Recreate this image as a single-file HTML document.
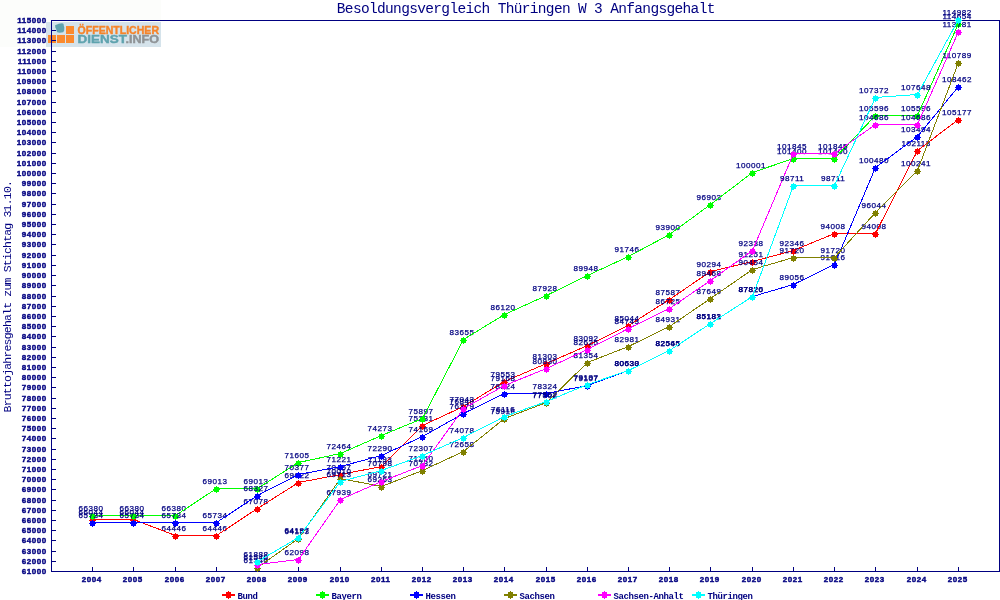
<!DOCTYPE html>
<html lang="de"><head><meta charset="utf-8"><title>Besoldungsvergleich Thüringen W 3 Anfangsgehalt</title>
<style>
html,body{margin:0;padding:0;background:#fff;}
body{width:1000px;height:600px;overflow:hidden;}
svg{display:block;}
svg{font-family:"Liberation Mono","DejaVu Sans Mono",monospace;}
text{fill:#000080;}
.ax{font-family:"Liberation Sans",sans-serif;font-size:8px;font-weight:bold;letter-spacing:0.55px;stroke:#000080;stroke-width:0.4px;}
.dv{font-family:"Liberation Sans",sans-serif;font-size:8.1px;letter-spacing:0.5px;text-anchor:middle;stroke:#000080;stroke-width:0.25px;}
.lt{font-size:9px;font-weight:bold;letter-spacing:-0.4px;}
.ti{font-size:14.5px;letter-spacing:-0.66px;}
.yt{font-size:11.5px;letter-spacing:-0.81px;}
.lg{font-family:"Liberation Sans",sans-serif;font-weight:bold;}
.cr{shape-rendering:crispEdges;}
</style></head><body>
<svg width="1000" height="600" viewBox="0 0 1000 600">
<rect x="0" y="0" width="1000" height="600" fill="#ffffff"/>
<rect x="0" y="0" width="161" height="47" fill="#fcfdfb"/>
<g id="logo">
<rect x="46" y="22" width="115" height="25" fill="#d5e3eb"/>
<g fill="#fb8a2e" class="cr">
<rect x="66" y="26" width="8" height="8"/>
<rect x="48" y="35" width="8" height="8"/>
<rect x="57" y="35" width="8" height="8"/>
<rect x="66" y="35" width="8" height="8"/>
</g>
<path d="M55.1 25.2 L57 24.6 L58.7 23.7 L62 23.2 L63.5 23.8 L63.8 25.5 L64.3 27.5 L64.2 30.6 L63.2 32.2 L59.6 32.8 L57.2 32.2 L56.4 30.6 L56.2 29 L55.3 27.4 Z" fill="#5fa3af"/>
<text class="lg" x="77.6" y="33.5" font-size="10.4" textLength="81.4" lengthAdjust="spacingAndGlyphs" style="fill:#f6842a;stroke:#f6842a;stroke-width:0.4px">ÖFFENTLICHER</text>
<text class="lg" x="77.6" y="42.5" font-size="10.4" style="fill:#5fa3af;stroke:#5fa3af;stroke-width:0.4px"><tspan textLength="47.8" lengthAdjust="spacingAndGlyphs">DIENST</tspan><tspan style="fill:#8f9396;stroke:#8f9396" textLength="33.6" lengthAdjust="spacingAndGlyphs">.INFO</tspan></text>
</g>
<text class="ti" x="336.8" y="12.6">Besoldungsvergleich Thüringen W 3 Anfangsgehalt</text>
<text class="yt" transform="translate(10.7 412.4) rotate(-90)">Bruttojahresgehalt zum Stichtag 31.10.</text>
<g class="cr" fill="#000080">
<rect x="51" y="20" width="1" height="552"/>
<rect x="999" y="20" width="1" height="552"/>
<rect x="51" y="20" width="949" height="1"/>
<rect x="51" y="571" width="949" height="1"/>
<rect x="52" y="571" width="4" height="1"/>
<rect x="52" y="561" width="4" height="1"/>
<rect x="52" y="551" width="4" height="1"/>
<rect x="52" y="540" width="4" height="1"/>
<rect x="52" y="530" width="4" height="1"/>
<rect x="52" y="520" width="4" height="1"/>
<rect x="52" y="510" width="4" height="1"/>
<rect x="52" y="500" width="4" height="1"/>
<rect x="52" y="489" width="4" height="1"/>
<rect x="52" y="479" width="4" height="1"/>
<rect x="52" y="469" width="4" height="1"/>
<rect x="52" y="459" width="4" height="1"/>
<rect x="52" y="449" width="4" height="1"/>
<rect x="52" y="438" width="4" height="1"/>
<rect x="52" y="428" width="4" height="1"/>
<rect x="52" y="418" width="4" height="1"/>
<rect x="52" y="408" width="4" height="1"/>
<rect x="52" y="398" width="4" height="1"/>
<rect x="52" y="387" width="4" height="1"/>
<rect x="52" y="377" width="4" height="1"/>
<rect x="52" y="367" width="4" height="1"/>
<rect x="52" y="357" width="4" height="1"/>
<rect x="52" y="347" width="4" height="1"/>
<rect x="52" y="336" width="4" height="1"/>
<rect x="52" y="326" width="4" height="1"/>
<rect x="52" y="316" width="4" height="1"/>
<rect x="52" y="306" width="4" height="1"/>
<rect x="52" y="296" width="4" height="1"/>
<rect x="52" y="285" width="4" height="1"/>
<rect x="52" y="275" width="4" height="1"/>
<rect x="52" y="265" width="4" height="1"/>
<rect x="52" y="255" width="4" height="1"/>
<rect x="52" y="244" width="4" height="1"/>
<rect x="52" y="234" width="4" height="1"/>
<rect x="52" y="224" width="4" height="1"/>
<rect x="52" y="214" width="4" height="1"/>
<rect x="52" y="204" width="4" height="1"/>
<rect x="52" y="193" width="4" height="1"/>
<rect x="52" y="183" width="4" height="1"/>
<rect x="52" y="173" width="4" height="1"/>
<rect x="52" y="163" width="4" height="1"/>
<rect x="52" y="153" width="4" height="1"/>
<rect x="52" y="142" width="4" height="1"/>
<rect x="52" y="132" width="4" height="1"/>
<rect x="52" y="122" width="4" height="1"/>
<rect x="52" y="112" width="4" height="1"/>
<rect x="52" y="102" width="4" height="1"/>
<rect x="52" y="91" width="4" height="1"/>
<rect x="52" y="81" width="4" height="1"/>
<rect x="52" y="71" width="4" height="1"/>
<rect x="52" y="61" width="4" height="1"/>
<rect x="52" y="51" width="4" height="1"/>
<rect x="52" y="40" width="4" height="1"/>
<rect x="52" y="30" width="4" height="1"/>
<rect x="52" y="20" width="4" height="1"/>
<rect x="92" y="567" width="1" height="4"/>
<rect x="133" y="567" width="1" height="4"/>
<rect x="175" y="567" width="1" height="4"/>
<rect x="216" y="567" width="1" height="4"/>
<rect x="257" y="567" width="1" height="4"/>
<rect x="298" y="567" width="1" height="4"/>
<rect x="340" y="567" width="1" height="4"/>
<rect x="381" y="567" width="1" height="4"/>
<rect x="422" y="567" width="1" height="4"/>
<rect x="463" y="567" width="1" height="4"/>
<rect x="504" y="567" width="1" height="4"/>
<rect x="546" y="567" width="1" height="4"/>
<rect x="587" y="567" width="1" height="4"/>
<rect x="628" y="567" width="1" height="4"/>
<rect x="669" y="567" width="1" height="4"/>
<rect x="710" y="567" width="1" height="4"/>
<rect x="752" y="567" width="1" height="4"/>
<rect x="793" y="567" width="1" height="4"/>
<rect x="834" y="567" width="1" height="4"/>
<rect x="875" y="567" width="1" height="4"/>
<rect x="917" y="567" width="1" height="4"/>
<rect x="958" y="567" width="1" height="4"/>
</g>
<g class="ax" text-anchor="end">
<text x="46.8" y="574">61000</text>
<text x="46.8" y="564">62000</text>
<text x="46.8" y="554">63000</text>
<text x="46.8" y="543">64000</text>
<text x="46.8" y="533">65000</text>
<text x="46.8" y="523">66000</text>
<text x="46.8" y="513">67000</text>
<text x="46.8" y="503">68000</text>
<text x="46.8" y="492">69000</text>
<text x="46.8" y="482">70000</text>
<text x="46.8" y="472">71000</text>
<text x="46.8" y="462">72000</text>
<text x="46.8" y="452">73000</text>
<text x="46.8" y="441">74000</text>
<text x="46.8" y="431">75000</text>
<text x="46.8" y="421">76000</text>
<text x="46.8" y="411">77000</text>
<text x="46.8" y="401">78000</text>
<text x="46.8" y="390">79000</text>
<text x="46.8" y="380">80000</text>
<text x="46.8" y="370">81000</text>
<text x="46.8" y="360">82000</text>
<text x="46.8" y="350">83000</text>
<text x="46.8" y="339">84000</text>
<text x="46.8" y="329">85000</text>
<text x="46.8" y="319">86000</text>
<text x="46.8" y="309">87000</text>
<text x="46.8" y="299">88000</text>
<text x="46.8" y="288">89000</text>
<text x="46.8" y="278">90000</text>
<text x="46.8" y="268">91000</text>
<text x="46.8" y="258">92000</text>
<text x="46.8" y="247">93000</text>
<text x="46.8" y="237">94000</text>
<text x="46.8" y="227">95000</text>
<text x="46.8" y="217">96000</text>
<text x="46.8" y="207">97000</text>
<text x="46.8" y="196">98000</text>
<text x="46.8" y="186">99000</text>
<text x="46.8" y="176">100000</text>
<text x="46.8" y="166">101000</text>
<text x="46.8" y="156">102000</text>
<text x="46.8" y="145">103000</text>
<text x="46.8" y="135">104000</text>
<text x="46.8" y="125">105000</text>
<text x="46.8" y="115">106000</text>
<text x="46.8" y="105">107000</text>
<text x="46.8" y="94">108000</text>
<text x="46.8" y="84">109000</text>
<text x="46.8" y="74">110000</text>
<text x="46.8" y="64">111000</text>
<text x="46.8" y="54">112000</text>
<text x="46.8" y="43">113000</text>
<text x="46.8" y="33">114000</text>
<text x="46.8" y="23">115000</text>
</g>
<g class="ax" text-anchor="middle">
<text x="91.7" y="582">2004</text>
<text x="132.7" y="582">2005</text>
<text x="174.7" y="582">2006</text>
<text x="215.7" y="582">2007</text>
<text x="256.7" y="582">2008</text>
<text x="297.7" y="582">2009</text>
<text x="339.7" y="582">2010</text>
<text x="380.7" y="582">2011</text>
<text x="421.7" y="582">2012</text>
<text x="462.7" y="582">2013</text>
<text x="503.7" y="582">2014</text>
<text x="545.7" y="582">2015</text>
<text x="586.7" y="582">2016</text>
<text x="627.7" y="582">2017</text>
<text x="668.7" y="582">2018</text>
<text x="709.7" y="582">2019</text>
<text x="751.7" y="582">2020</text>
<text x="792.7" y="582">2021</text>
<text x="833.7" y="582">2022</text>
<text x="874.7" y="582">2023</text>
<text x="916.7" y="582">2024</text>
<text x="957.7" y="582">2025</text>
</g>
<g>
<g class="dv">
<text x="91.1" y="515">66044</text>
<text x="132.1" y="515">66044</text>
<text x="174.1" y="531">64446</text>
<text x="215.1" y="531">64446</text>
<text x="256.1" y="504">67078</text>
<text x="297.1" y="478">69622</text>
<text x="339.1" y="470">70457</text>
<text x="380.1" y="462">71193</text>
<text x="421.1" y="421">75231</text>
<text x="462.1" y="402">77043</text>
<text x="503.1" y="377">79553</text>
<text x="545.1" y="359">81303</text>
<text x="586.1" y="341">83092</text>
<text x="627.1" y="321">85044</text>
<text x="668.1" y="295">87587</text>
<text x="709.1" y="267">90294</text>
<text x="751.1" y="257">91251</text>
<text x="792.1" y="246">92346</text>
<text x="833.1" y="229">94008</text>
<text x="874.1" y="229">94008</text>
<text x="916.1" y="146">102113</text>
<text x="957.1" y="115">105177</text>
</g>
<polyline class="cr" fill="none" stroke-width="1" stroke="#ff0000" points="92.5,519.5 133.5,519.5 175.5,535.5 216.5,535.5 257.5,508.5 298.5,482.5 340.5,474.5 381.5,466.5 422.5,425.5 463.5,406.5 504.5,381.5 546.5,363.5 587.5,345.5 628.5,325.5 669.5,299.5 710.5,271.5 752.5,261.5 793.5,250.5 834.5,233.5 875.5,233.5 917.5,150.5 958.5,119.5"/>
<path class="cr" fill="#ff0000" d="M90 518h2v-1h1v1h2v2h1v1h-1v2h-2v1h-1v-1h-2v-2h-1v-1h1zM131 518h2v-1h1v1h2v2h1v1h-1v2h-2v1h-1v-1h-2v-2h-1v-1h1zM173 534h2v-1h1v1h2v2h1v1h-1v2h-2v1h-1v-1h-2v-2h-1v-1h1zM214 534h2v-1h1v1h2v2h1v1h-1v2h-2v1h-1v-1h-2v-2h-1v-1h1zM255 507h2v-1h1v1h2v2h1v1h-1v2h-2v1h-1v-1h-2v-2h-1v-1h1zM296 481h2v-1h1v1h2v2h1v1h-1v2h-2v1h-1v-1h-2v-2h-1v-1h1zM338 473h2v-1h1v1h2v2h1v1h-1v2h-2v1h-1v-1h-2v-2h-1v-1h1zM379 465h2v-1h1v1h2v2h1v1h-1v2h-2v1h-1v-1h-2v-2h-1v-1h1zM420 424h2v-1h1v1h2v2h1v1h-1v2h-2v1h-1v-1h-2v-2h-1v-1h1zM461 405h2v-1h1v1h2v2h1v1h-1v2h-2v1h-1v-1h-2v-2h-1v-1h1zM502 380h2v-1h1v1h2v2h1v1h-1v2h-2v1h-1v-1h-2v-2h-1v-1h1zM544 362h2v-1h1v1h2v2h1v1h-1v2h-2v1h-1v-1h-2v-2h-1v-1h1zM585 344h2v-1h1v1h2v2h1v1h-1v2h-2v1h-1v-1h-2v-2h-1v-1h1zM626 324h2v-1h1v1h2v2h1v1h-1v2h-2v1h-1v-1h-2v-2h-1v-1h1zM667 298h2v-1h1v1h2v2h1v1h-1v2h-2v1h-1v-1h-2v-2h-1v-1h1zM708 270h2v-1h1v1h2v2h1v1h-1v2h-2v1h-1v-1h-2v-2h-1v-1h1zM750 260h2v-1h1v1h2v2h1v1h-1v2h-2v1h-1v-1h-2v-2h-1v-1h1zM791 249h2v-1h1v1h2v2h1v1h-1v2h-2v1h-1v-1h-2v-2h-1v-1h1zM832 232h2v-1h1v1h2v2h1v1h-1v2h-2v1h-1v-1h-2v-2h-1v-1h1zM873 232h2v-1h1v1h2v2h1v1h-1v2h-2v1h-1v-1h-2v-2h-1v-1h1zM915 149h2v-1h1v1h2v2h1v1h-1v2h-2v1h-1v-1h-2v-2h-1v-1h1zM956 118h2v-1h1v1h2v2h1v1h-1v2h-2v1h-1v-1h-2v-2h-1v-1h1z"/>
</g>
<g>
<g class="dv">
<text x="91.1" y="511">66380</text>
<text x="132.1" y="511">66380</text>
<text x="174.1" y="511">66380</text>
<text x="215.1" y="484">69013</text>
<text x="256.1" y="484">69013</text>
<text x="297.1" y="458">71605</text>
<text x="339.1" y="449">72464</text>
<text x="380.1" y="431">74273</text>
<text x="421.1" y="414">75897</text>
<text x="462.1" y="335">83655</text>
<text x="503.1" y="310">86120</text>
<text x="545.1" y="291">87928</text>
<text x="586.1" y="271">89948</text>
<text x="627.1" y="252">91746</text>
<text x="668.1" y="230">93900</text>
<text x="709.1" y="200">96903</text>
<text x="751.1" y="168">100001</text>
<text x="792.1" y="154">101400</text>
<text x="833.1" y="154">101400</text>
<text x="874.1" y="111">105596</text>
<text x="916.1" y="111">105596</text>
<text x="957.1" y="19">114654</text>
</g>
<polyline class="cr" fill="none" stroke-width="1" stroke="#00ff00" points="92.5,515.5 133.5,515.5 175.5,515.5 216.5,488.5 257.5,488.5 298.5,462.5 340.5,453.5 381.5,435.5 422.5,418.5 463.5,339.5 504.5,314.5 546.5,295.5 587.5,275.5 628.5,256.5 669.5,234.5 710.5,204.5 752.5,172.5 793.5,158.5 834.5,158.5 875.5,115.5 917.5,115.5 958.5,23.5"/>
<path class="cr" fill="#00ff00" d="M90 514h2v-1h1v1h2v2h1v1h-1v2h-2v1h-1v-1h-2v-2h-1v-1h1zM131 514h2v-1h1v1h2v2h1v1h-1v2h-2v1h-1v-1h-2v-2h-1v-1h1zM173 514h2v-1h1v1h2v2h1v1h-1v2h-2v1h-1v-1h-2v-2h-1v-1h1zM214 487h2v-1h1v1h2v2h1v1h-1v2h-2v1h-1v-1h-2v-2h-1v-1h1zM255 487h2v-1h1v1h2v2h1v1h-1v2h-2v1h-1v-1h-2v-2h-1v-1h1zM296 461h2v-1h1v1h2v2h1v1h-1v2h-2v1h-1v-1h-2v-2h-1v-1h1zM338 452h2v-1h1v1h2v2h1v1h-1v2h-2v1h-1v-1h-2v-2h-1v-1h1zM379 434h2v-1h1v1h2v2h1v1h-1v2h-2v1h-1v-1h-2v-2h-1v-1h1zM420 417h2v-1h1v1h2v2h1v1h-1v2h-2v1h-1v-1h-2v-2h-1v-1h1zM461 338h2v-1h1v1h2v2h1v1h-1v2h-2v1h-1v-1h-2v-2h-1v-1h1zM502 313h2v-1h1v1h2v2h1v1h-1v2h-2v1h-1v-1h-2v-2h-1v-1h1zM544 294h2v-1h1v1h2v2h1v1h-1v2h-2v1h-1v-1h-2v-2h-1v-1h1zM585 274h2v-1h1v1h2v2h1v1h-1v2h-2v1h-1v-1h-2v-2h-1v-1h1zM626 255h2v-1h1v1h2v2h1v1h-1v2h-2v1h-1v-1h-2v-2h-1v-1h1zM667 233h2v-1h1v1h2v2h1v1h-1v2h-2v1h-1v-1h-2v-2h-1v-1h1zM708 203h2v-1h1v1h2v2h1v1h-1v2h-2v1h-1v-1h-2v-2h-1v-1h1zM750 171h2v-1h1v1h2v2h1v1h-1v2h-2v1h-1v-1h-2v-2h-1v-1h1zM791 157h2v-1h1v1h2v2h1v1h-1v2h-2v1h-1v-1h-2v-2h-1v-1h1zM832 157h2v-1h1v1h2v2h1v1h-1v2h-2v1h-1v-1h-2v-2h-1v-1h1zM873 114h2v-1h1v1h2v2h1v1h-1v2h-2v1h-1v-1h-2v-2h-1v-1h1zM915 114h2v-1h1v1h2v2h1v1h-1v2h-2v1h-1v-1h-2v-2h-1v-1h1zM956 22h2v-1h1v1h2v2h1v1h-1v2h-2v1h-1v-1h-2v-2h-1v-1h1z"/>
</g>
<g>
<g class="dv">
<text x="91.1" y="518">65734</text>
<text x="132.1" y="518">65734</text>
<text x="174.1" y="518">65734</text>
<text x="215.1" y="518">65734</text>
<text x="256.1" y="491">68327</text>
<text x="297.1" y="470">70377</text>
<text x="339.1" y="462">71221</text>
<text x="380.1" y="451">72290</text>
<text x="421.1" y="432">74169</text>
<text x="462.1" y="409">76379</text>
<text x="503.1" y="389">78324</text>
<text x="545.1" y="389">78324</text>
<text x="586.1" y="381">79107</text>
<text x="627.1" y="366">80638</text>
<text x="668.1" y="346">82545</text>
<text x="709.1" y="319">85181</text>
<text x="751.1" y="292">87820</text>
<text x="792.1" y="280">89056</text>
<text x="833.1" y="260">91016</text>
<text x="874.1" y="163">100480</text>
<text x="916.1" y="132">103494</text>
<text x="957.1" y="82">108462</text>
</g>
<polyline class="cr" fill="none" stroke-width="1" stroke="#0000ff" points="92.5,522.5 133.5,522.5 175.5,522.5 216.5,522.5 257.5,495.5 298.5,474.5 340.5,466.5 381.5,455.5 422.5,436.5 463.5,413.5 504.5,393.5 546.5,393.5 587.5,385.5 628.5,370.5 669.5,350.5 710.5,323.5 752.5,296.5 793.5,284.5 834.5,264.5 875.5,167.5 917.5,136.5 958.5,86.5"/>
<path class="cr" fill="#0000ff" d="M90 521h2v-1h1v1h2v2h1v1h-1v2h-2v1h-1v-1h-2v-2h-1v-1h1zM131 521h2v-1h1v1h2v2h1v1h-1v2h-2v1h-1v-1h-2v-2h-1v-1h1zM173 521h2v-1h1v1h2v2h1v1h-1v2h-2v1h-1v-1h-2v-2h-1v-1h1zM214 521h2v-1h1v1h2v2h1v1h-1v2h-2v1h-1v-1h-2v-2h-1v-1h1zM255 494h2v-1h1v1h2v2h1v1h-1v2h-2v1h-1v-1h-2v-2h-1v-1h1zM296 473h2v-1h1v1h2v2h1v1h-1v2h-2v1h-1v-1h-2v-2h-1v-1h1zM338 465h2v-1h1v1h2v2h1v1h-1v2h-2v1h-1v-1h-2v-2h-1v-1h1zM379 454h2v-1h1v1h2v2h1v1h-1v2h-2v1h-1v-1h-2v-2h-1v-1h1zM420 435h2v-1h1v1h2v2h1v1h-1v2h-2v1h-1v-1h-2v-2h-1v-1h1zM461 412h2v-1h1v1h2v2h1v1h-1v2h-2v1h-1v-1h-2v-2h-1v-1h1zM502 392h2v-1h1v1h2v2h1v1h-1v2h-2v1h-1v-1h-2v-2h-1v-1h1zM544 392h2v-1h1v1h2v2h1v1h-1v2h-2v1h-1v-1h-2v-2h-1v-1h1zM585 384h2v-1h1v1h2v2h1v1h-1v2h-2v1h-1v-1h-2v-2h-1v-1h1zM626 369h2v-1h1v1h2v2h1v1h-1v2h-2v1h-1v-1h-2v-2h-1v-1h1zM667 349h2v-1h1v1h2v2h1v1h-1v2h-2v1h-1v-1h-2v-2h-1v-1h1zM708 322h2v-1h1v1h2v2h1v1h-1v2h-2v1h-1v-1h-2v-2h-1v-1h1zM750 295h2v-1h1v1h2v2h1v1h-1v2h-2v1h-1v-1h-2v-2h-1v-1h1zM791 283h2v-1h1v1h2v2h1v1h-1v2h-2v1h-1v-1h-2v-2h-1v-1h1zM832 263h2v-1h1v1h2v2h1v1h-1v2h-2v1h-1v-1h-2v-2h-1v-1h1zM873 166h2v-1h1v1h2v2h1v1h-1v2h-2v1h-1v-1h-2v-2h-1v-1h1zM915 135h2v-1h1v1h2v2h1v1h-1v2h-2v1h-1v-1h-2v-2h-1v-1h1zM956 85h2v-1h1v1h2v2h1v1h-1v2h-2v1h-1v-1h-2v-2h-1v-1h1z"/>
</g>
<g>
<g class="dv">
<text x="256.1" y="563">61340</text>
<text x="297.1" y="534">64153</text>
<text x="339.1" y="474">70010</text>
<text x="380.1" y="482">69263</text>
<text x="421.1" y="466">70782</text>
<text x="462.1" y="447">72658</text>
<text x="503.1" y="414">75916</text>
<text x="545.1" y="398">77502</text>
<text x="586.1" y="358">81354</text>
<text x="627.1" y="342">82981</text>
<text x="668.1" y="322">84931</text>
<text x="709.1" y="294">87649</text>
<text x="751.1" y="265">90454</text>
<text x="792.1" y="253">91720</text>
<text x="833.1" y="253">91720</text>
<text x="874.1" y="208">96044</text>
<text x="916.1" y="166">100241</text>
<text x="957.1" y="58">110789</text>
</g>
<polyline class="cr" fill="none" stroke-width="1" stroke="#808000" points="257.5,567.5 298.5,538.5 340.5,478.5 381.5,486.5 422.5,470.5 463.5,451.5 504.5,418.5 546.5,402.5 587.5,362.5 628.5,346.5 669.5,326.5 710.5,298.5 752.5,269.5 793.5,257.5 834.5,257.5 875.5,212.5 917.5,170.5 958.5,62.5"/>
<path class="cr" fill="#808000" d="M255 566h2v-1h1v1h2v2h1v1h-1v2h-2v1h-1v-1h-2v-2h-1v-1h1zM296 537h2v-1h1v1h2v2h1v1h-1v2h-2v1h-1v-1h-2v-2h-1v-1h1zM338 477h2v-1h1v1h2v2h1v1h-1v2h-2v1h-1v-1h-2v-2h-1v-1h1zM379 485h2v-1h1v1h2v2h1v1h-1v2h-2v1h-1v-1h-2v-2h-1v-1h1zM420 469h2v-1h1v1h2v2h1v1h-1v2h-2v1h-1v-1h-2v-2h-1v-1h1zM461 450h2v-1h1v1h2v2h1v1h-1v2h-2v1h-1v-1h-2v-2h-1v-1h1zM502 417h2v-1h1v1h2v2h1v1h-1v2h-2v1h-1v-1h-2v-2h-1v-1h1zM544 401h2v-1h1v1h2v2h1v1h-1v2h-2v1h-1v-1h-2v-2h-1v-1h1zM585 361h2v-1h1v1h2v2h1v1h-1v2h-2v1h-1v-1h-2v-2h-1v-1h1zM626 345h2v-1h1v1h2v2h1v1h-1v2h-2v1h-1v-1h-2v-2h-1v-1h1zM667 325h2v-1h1v1h2v2h1v1h-1v2h-2v1h-1v-1h-2v-2h-1v-1h1zM708 297h2v-1h1v1h2v2h1v1h-1v2h-2v1h-1v-1h-2v-2h-1v-1h1zM750 268h2v-1h1v1h2v2h1v1h-1v2h-2v1h-1v-1h-2v-2h-1v-1h1zM791 256h2v-1h1v1h2v2h1v1h-1v2h-2v1h-1v-1h-2v-2h-1v-1h1zM832 256h2v-1h1v1h2v2h1v1h-1v2h-2v1h-1v-1h-2v-2h-1v-1h1zM873 211h2v-1h1v1h2v2h1v1h-1v2h-2v1h-1v-1h-2v-2h-1v-1h1zM915 169h2v-1h1v1h2v2h1v1h-1v2h-2v1h-1v-1h-2v-2h-1v-1h1zM956 61h2v-1h1v1h2v2h1v1h-1v2h-2v1h-1v-1h-2v-2h-1v-1h1z"/>
</g>
<g>
<g class="dv">
<text x="256.1" y="560">61546</text>
<text x="297.1" y="555">62098</text>
<text x="339.1" y="495">67939</text>
<text x="380.1" y="477">69721</text>
<text x="421.1" y="461">71250</text>
<text x="462.1" y="404">76849</text>
<text x="503.1" y="381">79168</text>
<text x="545.1" y="364">80830</text>
<text x="586.1" y="345">82625</text>
<text x="627.1" y="324">84743</text>
<text x="668.1" y="304">86725</text>
<text x="709.1" y="276">89468</text>
<text x="751.1" y="246">92338</text>
<text x="792.1" y="149">101845</text>
<text x="833.1" y="149">101845</text>
<text x="874.1" y="120">104686</text>
<text x="916.1" y="120">104686</text>
<text x="957.1" y="27">113781</text>
</g>
<polyline class="cr" fill="none" stroke-width="1" stroke="#ff00ff" points="257.5,564.5 298.5,559.5 340.5,499.5 381.5,481.5 422.5,465.5 463.5,408.5 504.5,385.5 546.5,368.5 587.5,349.5 628.5,328.5 669.5,308.5 710.5,280.5 752.5,250.5 793.5,153.5 834.5,153.5 875.5,124.5 917.5,124.5 958.5,31.5"/>
<path class="cr" fill="#ff00ff" d="M255 563h2v-1h1v1h2v2h1v1h-1v2h-2v1h-1v-1h-2v-2h-1v-1h1zM296 558h2v-1h1v1h2v2h1v1h-1v2h-2v1h-1v-1h-2v-2h-1v-1h1zM338 498h2v-1h1v1h2v2h1v1h-1v2h-2v1h-1v-1h-2v-2h-1v-1h1zM379 480h2v-1h1v1h2v2h1v1h-1v2h-2v1h-1v-1h-2v-2h-1v-1h1zM420 464h2v-1h1v1h2v2h1v1h-1v2h-2v1h-1v-1h-2v-2h-1v-1h1zM461 407h2v-1h1v1h2v2h1v1h-1v2h-2v1h-1v-1h-2v-2h-1v-1h1zM502 384h2v-1h1v1h2v2h1v1h-1v2h-2v1h-1v-1h-2v-2h-1v-1h1zM544 367h2v-1h1v1h2v2h1v1h-1v2h-2v1h-1v-1h-2v-2h-1v-1h1zM585 348h2v-1h1v1h2v2h1v1h-1v2h-2v1h-1v-1h-2v-2h-1v-1h1zM626 327h2v-1h1v1h2v2h1v1h-1v2h-2v1h-1v-1h-2v-2h-1v-1h1zM667 307h2v-1h1v1h2v2h1v1h-1v2h-2v1h-1v-1h-2v-2h-1v-1h1zM708 279h2v-1h1v1h2v2h1v1h-1v2h-2v1h-1v-1h-2v-2h-1v-1h1zM750 249h2v-1h1v1h2v2h1v1h-1v2h-2v1h-1v-1h-2v-2h-1v-1h1zM791 152h2v-1h1v1h2v2h1v1h-1v2h-2v1h-1v-1h-2v-2h-1v-1h1zM832 152h2v-1h1v1h2v2h1v1h-1v2h-2v1h-1v-1h-2v-2h-1v-1h1zM873 123h2v-1h1v1h2v2h1v1h-1v2h-2v1h-1v-1h-2v-2h-1v-1h1zM915 123h2v-1h1v1h2v2h1v1h-1v2h-2v1h-1v-1h-2v-2h-1v-1h1zM956 30h2v-1h1v1h2v2h1v1h-1v2h-2v1h-1v-1h-2v-2h-1v-1h1z"/>
</g>
<g>
<g class="dv">
<text x="256.1" y="557">61888</text>
<text x="297.1" y="533">64197</text>
<text x="339.1" y="477">69713</text>
<text x="380.1" y="466">70798</text>
<text x="421.1" y="451">72307</text>
<text x="462.1" y="433">74078</text>
<text x="503.1" y="412">76116</text>
<text x="545.1" y="397">77562</text>
<text x="586.1" y="380">79197</text>
<text x="627.1" y="366">80630</text>
<text x="668.1" y="346">82565</text>
<text x="709.1" y="319">85183</text>
<text x="751.1" y="292">87826</text>
<text x="792.1" y="181">98711</text>
<text x="833.1" y="181">98711</text>
<text x="874.1" y="93">107372</text>
<text x="916.1" y="90">107648</text>
<text x="957.1" y="15">114982</text>
</g>
<polyline class="cr" fill="none" stroke-width="1" stroke="#00ffff" points="257.5,561.5 298.5,537.5 340.5,481.5 381.5,470.5 422.5,455.5 463.5,437.5 504.5,416.5 546.5,401.5 587.5,384.5 628.5,370.5 669.5,350.5 710.5,323.5 752.5,296.5 793.5,185.5 834.5,185.5 875.5,97.5 917.5,94.5 958.5,19.5"/>
<path class="cr" fill="#00ffff" d="M255 560h2v-1h1v1h2v2h1v1h-1v2h-2v1h-1v-1h-2v-2h-1v-1h1zM296 536h2v-1h1v1h2v2h1v1h-1v2h-2v1h-1v-1h-2v-2h-1v-1h1zM338 480h2v-1h1v1h2v2h1v1h-1v2h-2v1h-1v-1h-2v-2h-1v-1h1zM379 469h2v-1h1v1h2v2h1v1h-1v2h-2v1h-1v-1h-2v-2h-1v-1h1zM420 454h2v-1h1v1h2v2h1v1h-1v2h-2v1h-1v-1h-2v-2h-1v-1h1zM461 436h2v-1h1v1h2v2h1v1h-1v2h-2v1h-1v-1h-2v-2h-1v-1h1zM502 415h2v-1h1v1h2v2h1v1h-1v2h-2v1h-1v-1h-2v-2h-1v-1h1zM544 400h2v-1h1v1h2v2h1v1h-1v2h-2v1h-1v-1h-2v-2h-1v-1h1zM585 383h2v-1h1v1h2v2h1v1h-1v2h-2v1h-1v-1h-2v-2h-1v-1h1zM626 369h2v-1h1v1h2v2h1v1h-1v2h-2v1h-1v-1h-2v-2h-1v-1h1zM667 349h2v-1h1v1h2v2h1v1h-1v2h-2v1h-1v-1h-2v-2h-1v-1h1zM708 322h2v-1h1v1h2v2h1v1h-1v2h-2v1h-1v-1h-2v-2h-1v-1h1zM750 295h2v-1h1v1h2v2h1v1h-1v2h-2v1h-1v-1h-2v-2h-1v-1h1zM791 184h2v-1h1v1h2v2h1v1h-1v2h-2v1h-1v-1h-2v-2h-1v-1h1zM832 184h2v-1h1v1h2v2h1v1h-1v2h-2v1h-1v-1h-2v-2h-1v-1h1zM873 96h2v-1h1v1h2v2h1v1h-1v2h-2v1h-1v-1h-2v-2h-1v-1h1zM915 93h2v-1h1v1h2v2h1v1h-1v2h-2v1h-1v-1h-2v-2h-1v-1h1zM956 18h2v-1h1v1h2v2h1v1h-1v2h-2v1h-1v-1h-2v-2h-1v-1h1z"/>
</g>
<g class="cr" fill="#ff0000"><rect x="222" y="594" width="13" height="2"/><rect x="226" y="592" width="5" height="6"/><rect x="228" y="591" width="1" height="8"/><rect x="225" y="594" width="7" height="2"/></g>
<text class="lt" x="237.6" y="599">Bund</text>
<g class="cr" fill="#00ff00"><rect x="316" y="594" width="13" height="2"/><rect x="320" y="592" width="5" height="6"/><rect x="322" y="591" width="1" height="8"/><rect x="319" y="594" width="7" height="2"/></g>
<text class="lt" x="331.6" y="599">Bayern</text>
<g class="cr" fill="#0000ff"><rect x="410" y="594" width="13" height="2"/><rect x="414" y="592" width="5" height="6"/><rect x="416" y="591" width="1" height="8"/><rect x="413" y="594" width="7" height="2"/></g>
<text class="lt" x="425.6" y="599">Hessen</text>
<g class="cr" fill="#808000"><rect x="504" y="594" width="13" height="2"/><rect x="508" y="592" width="5" height="6"/><rect x="510" y="591" width="1" height="8"/><rect x="507" y="594" width="7" height="2"/></g>
<text class="lt" x="519.6" y="599">Sachsen</text>
<g class="cr" fill="#ff00ff"><rect x="598" y="594" width="13" height="2"/><rect x="602" y="592" width="5" height="6"/><rect x="604" y="591" width="1" height="8"/><rect x="601" y="594" width="7" height="2"/></g>
<text class="lt" x="613.6" y="599">Sachsen-Anhalt</text>
<g class="cr" fill="#00ffff"><rect x="692" y="594" width="13" height="2"/><rect x="696" y="592" width="5" height="6"/><rect x="698" y="591" width="1" height="8"/><rect x="695" y="594" width="7" height="2"/></g>
<text class="lt" x="707.6" y="599">Thüringen</text>
</svg>
</body></html>
